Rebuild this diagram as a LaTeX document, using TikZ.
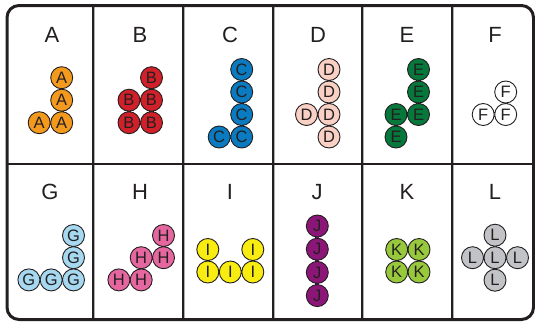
\documentclass[tikz,border=0pt]{standalone}
\usepackage{fontspec}
\setmainfont{Liberation Sans}
\usetikzlibrary{backgrounds}
\definecolor{ink}{HTML}{231F20}
\definecolor{cA}{HTML}{F39A1E}
\definecolor{cB}{HTML}{D0202A}
\definecolor{cC}{HTML}{0B7BC1}
\definecolor{cD}{HTML}{F9D0C4}
\definecolor{cE}{HTML}{06783B}
\definecolor{cF}{HTML}{FFFFFF}
\definecolor{cG}{HTML}{A6D8F0}
\definecolor{cH}{HTML}{E6679F}
\definecolor{cI}{HTML}{F8EC10}
\definecolor{cJ}{HTML}{8C1678}
\definecolor{cK}{HTML}{98C93C}
\definecolor{cL}{HTML}{C2C3C6}
\definecolor{shade}{HTML}{B0B0B0}
\tikzset{
  ball/.style={circle, draw=ink, line width=0.9pt, minimum size=22pt, inner sep=0pt,
    text=ink, font=\fontsize{16.5}{16.5}\selectfont},
  bond/.style={line width=0.8pt, draw=ink, double distance=2.6pt},
  grid/.style={line width=2pt, draw=ink},
  gridshade/.style={line width=1.2pt, draw=shade},
  frame/.style={line width=3pt, draw=ink, rounded corners=12pt},
  title/.style={text=ink, font=\fontsize{22}{22}\selectfont, inner sep=0pt}
}
\begin{document}
\begin{tikzpicture}[x=1pt,y=-1pt]
\useasboundingbox (0,0) rectangle (535,322);
% grid lines
\foreach \xx in {93,183,273,362,452}{
  \draw[gridshade] (\xx+1.8,6) -- (\xx+1.8,319);
  \draw[grid] (\xx,6) -- (\xx,319);
}
\draw[grid] (7,164) -- (533,164);
\draw[frame] (7,5.5) rectangle (533.5,319.5);
% titles
\node[title] (tA) at (52,35) {A};
\node[title] (tB) at (140,35) {B};
\node[title] (tC) at (230,35) {C};
\node[title] (tD) at (318,35) {D};
\node[title] (tE) at (407,35) {E};
\node[title] (tF) at (495,35) {F};
\node[title] (tG) at (50,192) {G};
\node[title] (tH) at (140,192) {H};
\node[title] (tI) at (230,192) {I};
\node[title] (tJ) at (317,192) {J};
\node[title] (tK) at (407,192) {K};
\node[title] (tL) at (495,192) {L};
% A
\node[ball,fill=cA] (a1) at (61.7,77.7) {A};
\node[ball,fill=cA] (a2) at (61.7,100.2) {A};
\node[ball,fill=cA] (a3) at (61.7,122.7) {A};
\node[ball,fill=cA] (a4) at (39.2,122.7) {A};
% B
\node[ball,fill=cB] (b1) at (151.5,77.7) {B};
\node[ball,fill=cB] (b2) at (129,100.2) {B};
\node[ball,fill=cB] (b3) at (151.5,100.2) {B};
\node[ball,fill=cB] (b4) at (129,122.7) {B};
\node[ball,fill=cB] (b5) at (151.5,122.7) {B};
% C
\node[ball,fill=cC] (c1) at (241.7,69.5) {C};
\node[ball,fill=cC] (c2) at (241.7,92) {C};
\node[ball,fill=cC] (c3) at (241.7,114.5) {C};
\node[ball,fill=cC] (c4) at (241.7,137) {C};
\node[ball,fill=cC] (c5) at (219.2,137) {C};
% D
\node[ball,fill=cD] (d1) at (329,69.5) {D};
\node[ball,fill=cD] (d2) at (329,92) {D};
\node[ball,fill=cD] (d3) at (329,114.5) {D};
\node[ball,fill=cD] (d4) at (329,137) {D};
\node[ball,fill=cD] (d5) at (306.5,114.5) {D};
% E
\node[ball,fill=cE] (e1) at (418.5,69.5) {E};
\node[ball,fill=cE] (e2) at (418.5,92) {E};
\node[ball,fill=cE] (e3) at (418.5,114.5) {E};
\node[ball,fill=cE] (e4) at (396,114.5) {E};
\node[ball,fill=cE] (e5) at (396,137) {E};
% F
\node[ball,fill=cF] (f1) at (505.7,92) {F};
\node[ball,fill=cF] (f2) at (505.7,114.5) {F};
\node[ball,fill=cF] (f3) at (483.2,114.5) {F};
% G
\node[ball,fill=cG] (g1) at (73.5,235.5) {G};
\node[ball,fill=cG] (g2) at (73.5,257.7) {G};
\node[ball,fill=cG] (g3) at (73.5,279.9) {G};
\node[ball,fill=cG] (g4) at (51.2,279.9) {G};
\node[ball,fill=cG] (g5) at (28.9,279.9) {G};
% H
\node[ball,fill=cH] (h1) at (163.5,235.5) {H};
\node[ball,fill=cH] (h2) at (163.5,257.7) {H};
\node[ball,fill=cH] (h3) at (141.2,257.7) {H};
\node[ball,fill=cH] (h4) at (141.2,279.9) {H};
\node[ball,fill=cH] (h5) at (118.9,279.9) {H};
% I
\node[ball,fill=cI] (i1) at (207.8,249.5) {I};
\node[ball,fill=cI] (i2) at (207.8,272) {I};
\node[ball,fill=cI] (i3) at (230.3,272) {I};
\node[ball,fill=cI] (i4) at (252.8,272) {I};
\node[ball,fill=cI] (i5) at (252.8,249.5) {I};
% J
\node[ball,fill=cJ] (j1) at (317.3,226) {J};
\node[ball,fill=cJ] (j2) at (317.3,249.2) {J};
\node[ball,fill=cJ] (j3) at (317.3,272.4) {J};
\node[ball,fill=cJ] (j4) at (317.3,295.6) {J};
% K
\node[ball,fill=cK] (k1) at (396.7,249.5) {K};
\node[ball,fill=cK] (k2) at (419,249.5) {K};
\node[ball,fill=cK] (k3) at (396.7,272) {K};
\node[ball,fill=cK] (k4) at (419,272) {K};
% L
\node[ball,fill=cL] (l1) at (495,235.2) {L};
\node[ball,fill=cL] (l2) at (472.5,257.7) {L};
\node[ball,fill=cL] (l3) at (495,257.7) {L};
\node[ball,fill=cL] (l4) at (517.5,257.7) {L};
\node[ball,fill=cL] (l5) at (495,280.2) {L};
% bonds
\begin{pgfonlayer}{background}
\draw[bond,double=cA] (a1.center) -- (a2.center) -- (a3.center) -- (a4.center);
\draw[bond,double=cB] (b1.center) -- (b3.center) -- (b5.center) -- (b4.center) -- (b2.center) -- (b3.center);
\draw[bond,double=cC] (c1.center) -- (c2.center) -- (c3.center) -- (c4.center) -- (c5.center);
\draw[bond,double=cD] (d1.center) -- (d2.center) -- (d3.center) -- (d4.center);
\draw[bond,double=cD] (d3.center) -- (d5.center);
\draw[bond,double=cE] (e1.center) -- (e2.center) -- (e3.center) -- (e4.center) -- (e5.center);
\draw[bond,double=cF] (f1.center) -- (f2.center) -- (f3.center);
\draw[bond,double=cG] (g1.center) -- (g2.center) -- (g3.center) -- (g4.center) -- (g5.center);
\draw[bond,double=cH] (h1.center) -- (h2.center) -- (h3.center) -- (h4.center) -- (h5.center);
\draw[bond,double=cI] (i1.center) -- (i2.center) -- (i3.center) -- (i4.center) -- (i5.center);
\draw[bond,double=cJ] (j1.center) -- (j2.center) -- (j3.center) -- (j4.center);
\draw[bond,double=cK] (k1.center) -- (k2.center) -- (k4.center) -- (k3.center) -- (k1.center);
\draw[bond,double=cL] (l1.center) -- (l3.center) -- (l5.center);
\draw[bond,double=cL] (l2.center) -- (l3.center) -- (l4.center);
\end{pgfonlayer}
\end{tikzpicture}
\end{document}
